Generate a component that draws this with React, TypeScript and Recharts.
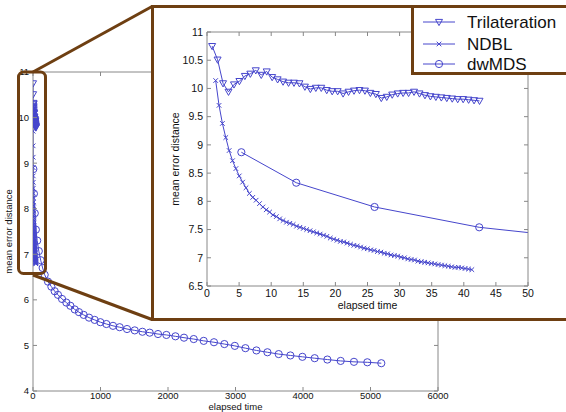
import React from "react";
import { LineChart, Line, XAxis, YAxis } from "recharts";

const BLUE = "#4646cc";
const BROWN = "#6e3f12";
const AXIS = "#888888";
const FONT = "Arial, 'Liberation Sans', sans-serif";

const seriesNames = ["Trilateration", "NDBL", "dwMDS"];

// Trilateration
const triTime = [
  0.8, 1.65, 2.5, 3.35, 4.2, 5.05, 5.9, 6.75, 7.6, 8.45, 9.3, 10.15, 11.0, 11.85, 12.7, 13.55,
  14.4, 15.25, 16.1, 16.95, 17.8, 18.65, 19.5, 20.35, 21.2, 22.05, 22.9, 23.75, 24.6, 25.45,
  26.3, 27.15, 28.0, 28.85, 29.7, 30.55, 31.4, 32.25, 33.1, 33.95, 34.8, 35.65, 36.5, 37.35,
  38.2, 39.05, 39.9, 40.75, 41.6, 42.45,
];
const triError = [
  10.75, 10.51, 10.09, 9.94, 10.07, 10.13, 10.22, 10.26, 10.32, 10.24, 10.3, 10.2, 10.16, 10.12,
  10.1, 10.1, 10.09, 10.03, 9.99, 10.01, 10.01, 9.97, 9.95, 9.95, 9.91, 9.94, 9.96, 9.97, 9.96,
  9.92, 9.9, 9.83, 9.85, 9.89, 9.91, 9.92, 9.92, 9.94, 9.91, 9.88, 9.86, 9.85, 9.84, 9.83, 9.82,
  9.81, 9.81, 9.8, 9.79, 9.78,
];

// NDBL
const ndblTime = [
  1.35, 1.875, 2.4, 2.925, 3.45, 3.975, 4.5, 5.025, 5.55, 6.075, 6.6, 7.125, 7.65, 8.175, 8.7,
  9.225, 9.75, 10.275, 10.8, 11.325, 11.85, 12.375, 12.9, 13.425, 13.95, 14.475, 15.0, 15.525,
  16.05, 16.575, 17.1, 17.625, 18.15, 18.675, 19.2, 19.725, 20.25, 20.775, 21.3, 21.825, 22.35,
  22.875, 23.4, 23.925, 24.45, 24.975, 25.5, 26.025, 26.55, 27.075, 27.6, 28.125, 28.65, 29.175,
  29.7, 30.225, 30.75, 31.275, 31.8, 32.325, 32.85, 33.375, 33.9, 34.425, 34.95, 35.475, 36.0,
  36.525, 37.05, 37.575, 38.1, 38.625, 39.15, 39.675, 40.2, 40.725, 41.25,
];
const ndblError = [
  10.14, 9.7, 9.38, 9.13, 8.9, 8.72, 8.58, 8.45, 8.34, 8.24, 8.14, 8.07, 8.02, 7.96, 7.9, 7.85,
  7.81, 7.76, 7.73, 7.69, 7.66, 7.63, 7.61, 7.59, 7.56, 7.54, 7.52, 7.5, 7.48, 7.46, 7.44, 7.42,
  7.4, 7.38, 7.35, 7.33, 7.31, 7.29, 7.28, 7.26, 7.24, 7.22, 7.21, 7.19, 7.17, 7.16, 7.14, 7.13,
  7.11, 7.1, 7.08, 7.07, 7.05, 7.04, 7.03, 7.01, 7.0, 6.98, 6.97, 6.96, 6.94, 6.93, 6.92, 6.91,
  6.9, 6.89, 6.88, 6.87, 6.86, 6.85, 6.84, 6.83, 6.83, 6.82, 6.81, 6.8, 6.79,
];

// dwMDS
const mdsTime = [
  5.35, 13.9, 26.1, 42.4, 62, 86, 114, 143, 173, 222, 272, 321, 370, 430, 494, 554, 618, 681, 751,
  830, 914, 998, 1087, 1185, 1284, 1393, 1507, 1621, 1729, 1852, 1976, 2110, 2237, 2381, 2529,
  2681, 2835, 2990, 3147, 3310, 3473, 3640, 3813, 3991, 4173, 4361, 4558, 4755, 4953, 5160,
];
const mdsError = [
  8.87, 8.33, 7.9, 7.54, 7.3, 7.07, 6.87, 6.7, 6.55, 6.4, 6.29, 6.19, 6.11, 6.02, 5.94, 5.87, 5.79,
  5.73, 5.67, 5.61, 5.56, 5.51, 5.47, 5.43, 5.4, 5.36, 5.33, 5.3, 5.28, 5.25, 5.23, 5.2, 5.17,
  5.14, 5.1, 5.07, 5.03, 4.99, 4.94, 4.89, 4.85, 4.81, 4.78, 4.75, 4.72, 4.69, 4.66, 4.64, 4.63,
  4.61,
];

const mainXTicks = [0, 1000, 2000, 3000, 4000, 5000, 6000];
const mainYTicks = [4, 5, 6, 7, 8, 9, 10, 11];
const zoomXTicks = [0, 5, 10, 15, 20, 25, 30, 35, 40, 45, 50];
const zoomYTicks = [6.5, 7, 7.5, 8, 8.5, 9, 9.5, 10, 10.5, 11];

const toPoints = (t: number[], e: number[]) =>
  t.slice(0, Math.min(t.length, e.length)).map((v, i) => ({ t: v, e: e[i] }));

const triData = toPoints(triTime, triError);
const ndblData = toPoints(ndblTime, ndblError);
const mdsData = toPoints(mdsTime, mdsError);

type Side = "bottom" | "left" | "top" | "right";

// MATLAB style ticks: marks point into the plot, labels sit outside
function makeTick(side: Side, fontSize: number, showLabel: boolean, gap: number) {
  return (props: any) => {
    const { x, y, payload, index } = props;
    const len = 4;
    let mark;
    let label = null;
    if (side === "bottom") {
      mark = <line x1={x} y1={y} x2={x} y2={y - len} stroke={AXIS} />;
      if (showLabel)
        label = (
          <text x={x} y={y + gap} dy="0.72em" textAnchor="middle" fontSize={fontSize} fontFamily={FONT} fill="#111">
            {payload.value}
          </text>
        );
    } else if (side === "left") {
      mark = <line x1={x} y1={y} x2={x + len} y2={y} stroke={AXIS} />;
      if (showLabel)
        label = (
          <text x={x - 4} y={y} dy="0.36em" textAnchor="end" fontSize={fontSize} fontFamily={FONT} fill="#111">
            {payload.value}
          </text>
        );
    } else if (side === "top") {
      mark = <line x1={x} y1={y} x2={x} y2={y + len} stroke={AXIS} />;
    } else {
      mark = <line x1={x} y1={y} x2={x - len} y2={y} stroke={AXIS} />;
    }
    return (
      <g key={`${side}-${index}`}>
        {mark}
        {label}
      </g>
    );
  };
}

const triangleDot = (p: any) => {
  const { cx, cy, index } = p;
  if (cx == null || cy == null) return <g key={`tri-${index}`} />;
  return (
    <polygon
      key={`tri-${index}`}
      points={`${cx - 3.5},${cy - 2.6} ${cx + 3.5},${cy - 2.6} ${cx},${cy + 3.6}`}
      fill="none"
      stroke={BLUE}
      strokeWidth={1}
    />
  );
};

const crossDot = (p: any) => {
  const { cx, cy, index } = p;
  if (cx == null || cy == null) return <g key={`x-${index}`} />;
  const s = 2.3;
  return (
    <g key={`x-${index}`} stroke={BLUE} strokeWidth={1}>
      <line x1={cx - s} y1={cy - s} x2={cx + s} y2={cy + s} />
      <line x1={cx - s} y1={cy + s} x2={cx + s} y2={cy - s} />
    </g>
  );
};

const circleDot = (p: any) => {
  const { cx, cy, index } = p;
  if (cx == null || cy == null) return <g key={`o-${index}`} />;
  return <circle key={`o-${index}`} cx={cx} cy={cy} r={3.6} fill="none" stroke={BLUE} strokeWidth={1} />;
};

const markers = [triangleDot, crossDot, circleDot];

// four axes of width/height 1 so that the plot gets a closed box
function boxAxes({ xTicks, yTicks, xDomain, yDomain, fontSize, tickGap, xLabel, yLabel, xLabelOffset, yLabelOffset }: any) {
  const labelStyle = { fontSize, fill: "#111", fontFamily: FONT, textAnchor: "middle" as const };
  const common = {
    type: "number" as const,
    interval: 0 as const,
    allowDataOverflow: true,
    tickSize: 0,
    tickMargin: 0,
    tickLine: false,
    axisLine: { stroke: AXIS },
  };
  return [
    <XAxis
      key="xb"
      xAxisId="b"
      dataKey="t"
      domain={xDomain}
      ticks={xTicks}
      height={1}
      {...common}
      tick={makeTick("bottom", fontSize, true, tickGap)}
      label={{ value: xLabel, position: "bottom", offset: xLabelOffset, style: labelStyle }}
    />,
    <XAxis
      key="xt"
      xAxisId="t"
      orientation="top"
      dataKey="t"
      domain={xDomain}
      ticks={xTicks}
      height={1}
      {...common}
      tick={makeTick("top", fontSize, false, tickGap)}
    />,
    <YAxis
      key="yl"
      yAxisId="l"
      domain={yDomain}
      ticks={yTicks}
      width={1}
      {...common}
      tick={makeTick("left", fontSize, true, tickGap)}
      label={{ value: yLabel, angle: -90, position: "left", offset: yLabelOffset, style: labelStyle }}
    />,
    <YAxis
      key="yr"
      yAxisId="r"
      orientation="right"
      domain={yDomain}
      ticks={yTicks}
      width={1}
      {...common}
      tick={makeTick("right", fontSize, false, tickGap)}
    />,
  ];
}

function seriesLines() {
  return [triData, ndblData, mdsData].map((d, i) => (
    <Line
      key={seriesNames[i]}
      name={seriesNames[i]}
      data={d}
      dataKey="e"
      xAxisId="b"
      yAxisId="l"
      type="linear"
      stroke={BLUE}
      strokeWidth={1}
      dot={markers[i]}
      activeDot={false}
      isAnimationActive={false}
    />
  ));
}

function ZoomLegend() {
  const rows = [19, 41, 61];
  return (
    <div
      style={{
        position: "absolute",
        left: 411,
        top: 5,
        width: 180,
        height: 70,
        border: `3px solid ${BROWN}`,
        boxSizing: "border-box",
        background: "#fff",
      }}
    >
      <svg width={180} height={70} style={{ position: "absolute", left: -3, top: -5 }}>
        {seriesNames.map((name, i) => {
          const y = rows[i];
          const Dot = markers[i];
          return (
            <g key={name}>
              <line x1={12} y1={y} x2={44} y2={y} stroke={BLUE} strokeWidth={1} />
              {Dot({ cx: 28, cy: y, index: i })}
              <text x={56} y={y} dy="0.36em" fontSize={17} fontFamily={FONT} fill="#111">
                {name}
              </text>
            </g>
          );
        })}
      </svg>
    </div>
  );
}

export default function App() {
  return (
    <div
      style={{
        position: "absolute",
        left: 0,
        top: 0,
        width: 566,
        height: 412,
        overflow: "hidden",
        background: "#fff",
        fontFamily: FONT,
      }}
    >
      {/* full run */}
      <div style={{ position: "absolute", left: 0, top: 0 }}>
        <LineChart width={566} height={412} margin={{ top: 71, right: 127, bottom: 20, left: 32 }}>
          {boxAxes({
            xTicks: mainXTicks,
            yTicks: mainYTicks,
            xDomain: [0, 6000],
            yDomain: [4, 11],
            fontSize: 9.5,
            tickGap: 1.5,
            xLabel: "elapsed time",
            yLabel: "mean error distance",
            xLabelOffset: 11.5,
            yLabelOffset: 23.5,
          })}
          {seriesLines()}
        </LineChart>
      </div>

      {/* zoom marker and connectors */}
      <svg width={566} height={412} style={{ position: "absolute", left: 0, top: 0 }}>
        <rect x={18.5} y={72} width={27} height={201.5} rx={5} fill="none" stroke={BROWN} strokeWidth={3} />
        <line x1={33} y1={72} x2={152} y2={6.5} stroke={BROWN} strokeWidth={3} />
        <line x1={33} y1={275} x2={152} y2={319.5} stroke={BROWN} strokeWidth={3} />
      </svg>

      {/* zoom frame */}
      <div
        style={{
          position: "absolute",
          left: 151,
          top: 5,
          width: 440,
          height: 316,
          border: `3px solid ${BROWN}`,
          boxSizing: "border-box",
          background: "#fff",
        }}
      />

      {/* first 50 seconds */}
      <div style={{ position: "absolute", left: 0, top: 0 }}>
        <LineChart width={566} height={412} margin={{ top: 31, right: 37, bottom: 125, left: 206 }}>
          {boxAxes({
            xTicks: zoomXTicks,
            yTicks: zoomYTicks,
            xDomain: [0, 50],
            yDomain: [6.5, 11],
            fontSize: 10.5,
            tickGap: 3,
            xLabel: "elapsed time",
            yLabel: "mean error distance",
            xLabelOffset: 15,
            yLabelOffset: 31,
          })}
          {seriesLines()}
        </LineChart>
      </div>

      <ZoomLegend />
    </div>
  );
}
